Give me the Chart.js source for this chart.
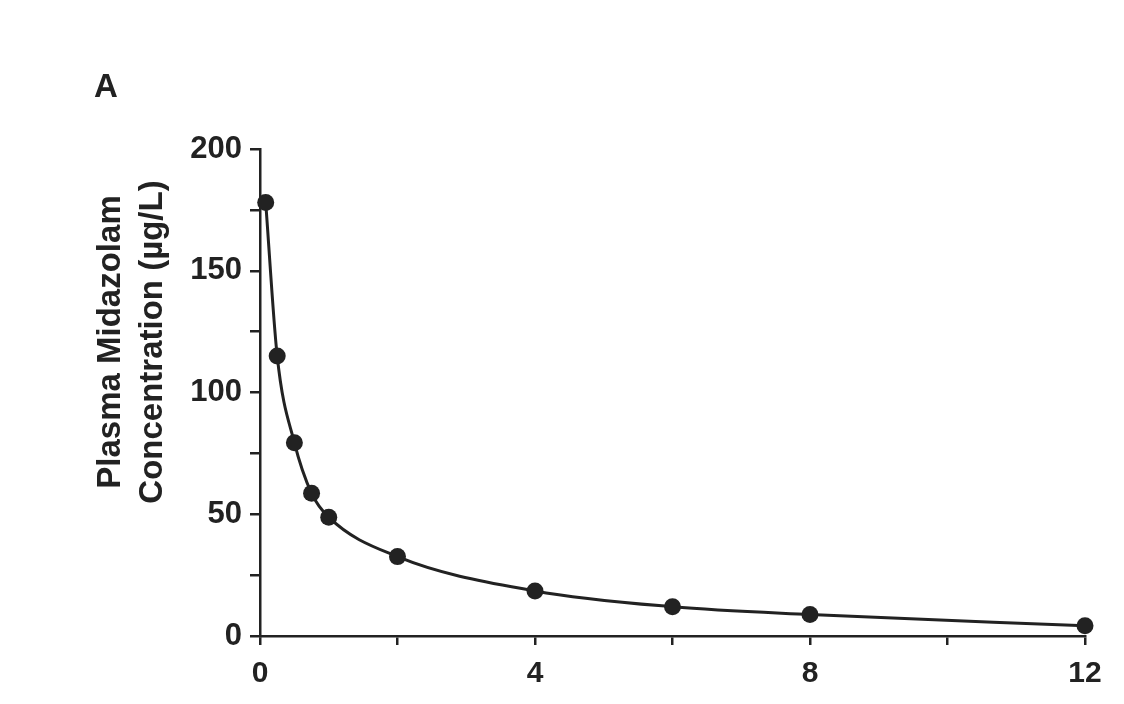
<!DOCTYPE html>
<html>
<head>
<meta charset="utf-8">
<script src="https://cdn.jsdelivr.net/npm/chart.js@4/dist/chart.umd.min.js"></script>
<style>
  html, body { margin: 0; padding: 0; background: #ffffff; }
  #wrap { width: 1124px; height: 704px; }
</style>
</head>
<body>
<div id="wrap"><canvas id="c" width="1124" height="704"></canvas></div>
<script>
// Time after dose (h)
const timeHours = [0.083, 0.25, 0.5, 0.75, 1, 2, 4, 6, 8, 12];
// Plasma midazolam concentration (µg/L)
const concentration = [178, 115, 79.4, 58.6, 48.8, 32.6, 18.5, 12.0, 8.8, 4.2];
const xTickLabels = [0, 4, 8, 12];
const yTickLabels = [0, 50, 100, 150, 200];
const panelLabel = 'A';
const yTitleLines = ['Plasma Midazolam', 'Concentration (µg/L)'];

const INK = '#222222';
const FONT = '"Liberation Sans", Arial, sans-serif';

const annotatePlugin = {
  id: 'annotate',
  afterDraw(chart) {
    const ctx = chart.ctx;
    ctx.save();
    ctx.fillStyle = INK;
    // Panel label
    ctx.font = 'bold 33px ' + FONT;
    ctx.textAlign = 'left';
    ctx.textBaseline = 'alphabetic';
    ctx.fillText(panelLabel, 94, 97);
    // Y axis title (two lines, rotated)
    const cy = 342;
    ctx.translate(0, cy);
    ctx.rotate(-Math.PI / 2);
    ctx.font = 'bold 33px ' + FONT;
    ctx.textAlign = 'center';
    ctx.textBaseline = 'alphabetic';
    ctx.fillText(yTitleLines[0], 0, 120);
    ctx.fillText(yTitleLines[1], 0, 162);
    ctx.restore();
  }
};

new Chart(document.getElementById('c'), {
  type: 'line',
  data: {
    datasets: [{
      data: timeHours.map((t, i) => ({ x: t, y: concentration[i] })),
      borderColor: INK,
      backgroundColor: INK,
      borderWidth: 3,
      pointRadius: 8.5,
      pointHoverRadius: 8.5,
      pointBackgroundColor: INK,
      pointBorderWidth: 0,
      cubicInterpolationMode: 'monotone',
      fill: false,
      clip: false
    }]
  },
  options: {
    responsive: false,
    animation: false,
    devicePixelRatio: 1,
    layout: { padding: { top: 149, right: 39, left: 0, bottom: 0 } },
    plugins: {
      legend: { display: false },
      tooltip: { enabled: false },
      title: { display: false }
    },
    scales: {
      x: {
        type: 'linear',
        min: 0,
        max: 12,
        afterFit(scale) { scale.height = 68; },
        border: { display: true, color: INK, width: 2.5 },
        grid: { display: true, drawOnChartArea: false, drawTicks: true, tickLength: 9, color: INK, lineWidth: 2.5 },
        ticks: {
          stepSize: 2,
          padding: 11,
          color: INK,
          font: { family: FONT, size: 30, weight: 'bold' },
          maxRotation: 0,
          callback: (v) => xTickLabels.includes(v) ? String(v) : ''
        }
      },
      y: {
        type: 'linear',
        min: 0,
        max: 200,
        afterFit(scale) { scale.width = 260; },
        border: { display: true, color: INK, width: 2.5 },
        grid: { display: true, drawOnChartArea: false, drawTicks: true, tickLength: 10, color: INK, lineWidth: 2.5 },
        ticks: {
          stepSize: 25,
          padding: 8,
          color: INK,
          font: { family: FONT, size: 31, weight: 'bold' },
          callback: (v) => yTickLabels.includes(v) ? String(v) : ''
        }
      }
    }
  },
  plugins: [annotatePlugin]
});
</script>
</body>
</html>
